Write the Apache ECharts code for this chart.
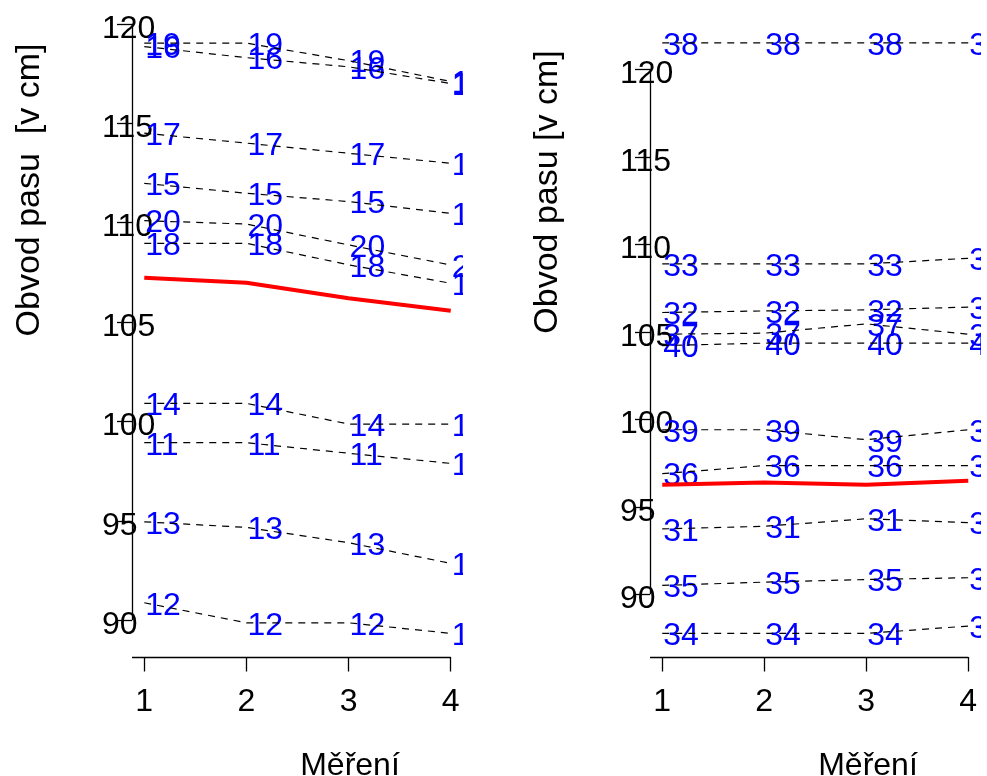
<!DOCTYPE html>
<html>
<head>
<meta charset="utf-8">
<title>Obvod pasu</title>
<script src="https://cdn.jsdelivr.net/npm/echarts@6/dist/echarts.min.js"></script>
<style>
  html, body { margin: 0; padding: 0; background: #fff; }
  #chart { width: 987px; height: 776px; }
</style>
</head>
<body>
<div id="chart"></div>
<script>
// Measurement occasions (x axis)
const measurements = [1, 2, 3, 4];
const xTickLabels = [1, 2, 3, 4];
const yTickLabels = [90, 95, 100, 105, 110, 115, 120];

// Waist circumference [cm] per subject, left group (IDs 11-20)
const waist11 = [98.93, 98.93, 98.40, 97.89];
const waist12 = [90.88, 89.87, 89.87, 89.34];
const waist13 = [94.95, 94.67, 93.90, 92.86];
const waist14 = [100.91, 100.91, 99.87, 99.87];
const waist15 = [111.98, 111.48, 111.06, 110.47];
const waist16 = [118.86, 118.30, 117.84, 117.00];
const waist17 = [114.50, 114.00, 113.49, 112.99];
const waist18 = [108.96, 108.96, 107.88, 106.95];
const waist19 = [119.03, 119.03, 118.15, 117.10];
const waist20 = [110.10, 109.93, 108.88, 107.87];
const groupLeftMean = [107.23, 106.98, 106.20, 105.57];

// Waist circumference [cm] per subject, right group (IDs 31-40)
const waist31 = [93.74, 93.89, 94.32, 94.10];
const waist32 = [106.11, 106.20, 106.26, 106.42];
const waist33 = [108.89, 108.89, 108.89, 109.21];
const waist34 = [87.77, 87.77, 87.77, 88.19];
const waist35 = [90.51, 90.70, 90.85, 90.95];
const waist36 = [96.90, 97.36, 97.36, 97.36];
const waist37 = [104.87, 104.93, 105.46, 104.87];
const waist38 = [121.52, 121.52, 121.52, 121.52];
const waist39 = [99.41, 99.41, 98.84, 99.41];
const waist40 = [104.22, 104.36, 104.36, 104.36];
const groupRightMean = [96.27, 96.40, 96.27, 96.50];

const leftSubjects = [
  [11, waist11], [12, waist12], [13, waist13], [14, waist14], [15, waist15],
  [16, waist16], [17, waist17], [18, waist18], [19, waist19], [20, waist20]
];
const rightSubjects = [
  [31, waist31], [32, waist32], [33, waist33], [34, waist34], [35, waist35],
  [36, waist36], [37, waist37], [38, waist38], [39, waist39], [40, waist40]
];

const FONT_FAMILY = '"Liberation Sans", Arial, Helvetica, sans-serif';
const FONT_SIZE = 32;
const font = FONT_SIZE + 'px ' + FONT_FAMILY;
const titleFont = '34px ' + FONT_FAMILY;

// Plot ranges (data range padded by 4 % like base graphics)
const xRange = [0.88, 4.12];
const yRangeLeft = [88.15, 120.22];
const yRangeRight = [86.42, 122.87];

const panels = [
  { grid: { left: 132, top: 19.5, width: 331, height: 637.5 }, yRange: yRangeLeft, subjects: leftSubjects, mean: groupLeftMean },
  { grid: { left: 650, top: 19.3, width: 330.5, height: 637.7 }, yRange: yRangeRight, subjects: rightSubjects, mean: groupRightMean }
];

const grids = [], xAxes = [], yAxes = [], series = [];

panels.forEach((p, k) => {
  grids.push(p.grid);
  xAxes.push({
    type: 'value', gridIndex: k, min: xRange[0], max: xRange[1],
    axisLine: { show: false },
    splitLine: { show: false },
    axisTick: { show: true, customValues: xTickLabels, length: 14.5, lineStyle: { color: '#000', width: 1.3 } },
    axisLabel: { show: true, customValues: xTickLabels, margin: 29, color: '#000', fontSize: FONT_SIZE, fontFamily: FONT_FAMILY }
  });
  yAxes.push({
    type: 'value', gridIndex: k, min: p.yRange[0], max: p.yRange[1],
    axisLine: { show: false },
    splitLine: { show: false },
    axisTick: { show: true, customValues: yTickLabels, length: 15, lineStyle: { color: '#000', width: 1.3 } },
    axisLabel: {
      show: true, customValues: yTickLabels, margin: 30, align: 'left',
      verticalAlign: 'top', lineHeight: 10,
      color: '#000', fontSize: FONT_SIZE, fontFamily: FONT_FAMILY
    }
  });

  // subject ID labels placed at each measurement
  const labelData = [];
  p.subjects.forEach(([id, vals]) => {
    measurements.forEach((m, i) => labelData.push([m, vals[i], id]));
  });
  series.push({
    type: 'custom', xAxisIndex: k, yAxisIndex: k, clip: true, silent: true, z: 2,
    data: labelData,
    encode: { x: 0, y: 1 },
    renderItem: (params, api) => {
      const pt = api.coord([api.value(0), api.value(1)]);
      return {
        type: 'text', x: pt[0] + 1, y: pt[1] + 3,
        style: { text: String(api.value(2)), fill: '#0000ff', font: font, textAlign: 'left', textVerticalAlign: 'middle' }
      };
    }
  });

  // dashed profile line per subject
  p.subjects.forEach(([id, vals]) => {
    series.push({
      type: 'line', name: 'ID ' + id, xAxisIndex: k, yAxisIndex: k, z: 3, silent: true,
      symbol: 'none', showSymbol: false,
      data: measurements.map((m, i) => [m, vals[i]]),
      lineStyle: { color: '#000', width: 1.2, type: [7, 6] }
    });
  });

  // group mean profile, plus the axis lines
  series.push({
    type: 'line', name: 'průměr', xAxisIndex: k, yAxisIndex: k, z: 4, silent: true,
    symbol: 'none', showSymbol: false,
    data: measurements.map((m, i) => [m, p.mean[i]]),
    lineStyle: { color: '#ff0000', width: 4 },
    markLine: {
      silent: true, symbol: ['none', 'none'], label: { show: false },
      lineStyle: { type: 'solid', color: '#000', width: 1.3 },
      emphasis: { disabled: true },
      data: [
        [{ coord: [xRange[0], yTickLabels[yTickLabels.length - 1]] }, { coord: [xRange[0], yTickLabels[0]] }],
        [{ coord: [xRange[0], p.yRange[0]] }, { coord: [measurements[measurements.length - 1], p.yRange[0]] }]
      ]
    }
  });
});

const chart = echarts.init(document.getElementById('chart'), null, { renderer: 'canvas' });
chart.setOption({
  animation: false,
  backgroundColor: '#fff',
  grid: grids,
  xAxis: xAxes,
  yAxis: yAxes,
  series: series,
  graphic: [
    { type: 'text', x: 30, y: 190, rotation: Math.PI / 2, silent: true,
      style: { text: 'Obvod pasu  [v cm]', font: titleFont, fill: '#000', textAlign: 'center', textVerticalAlign: 'middle' } },
    { type: 'text', x: 548, y: 192, rotation: Math.PI / 2, silent: true,
      style: { text: 'Obvod pasu [v cm]', font: titleFont, fill: '#000', textAlign: 'center', textVerticalAlign: 'middle' } },
    { type: 'text', x: 350, y: 766, silent: true,
      style: { text: 'Měření', font: font, fill: '#000', textAlign: 'center', textVerticalAlign: 'middle' } },
    { type: 'text', x: 868, y: 766, silent: true,
      style: { text: 'Měření', font: font, fill: '#000', textAlign: 'center', textVerticalAlign: 'middle' } }
  ]
});
</script>
</body>
</html>
